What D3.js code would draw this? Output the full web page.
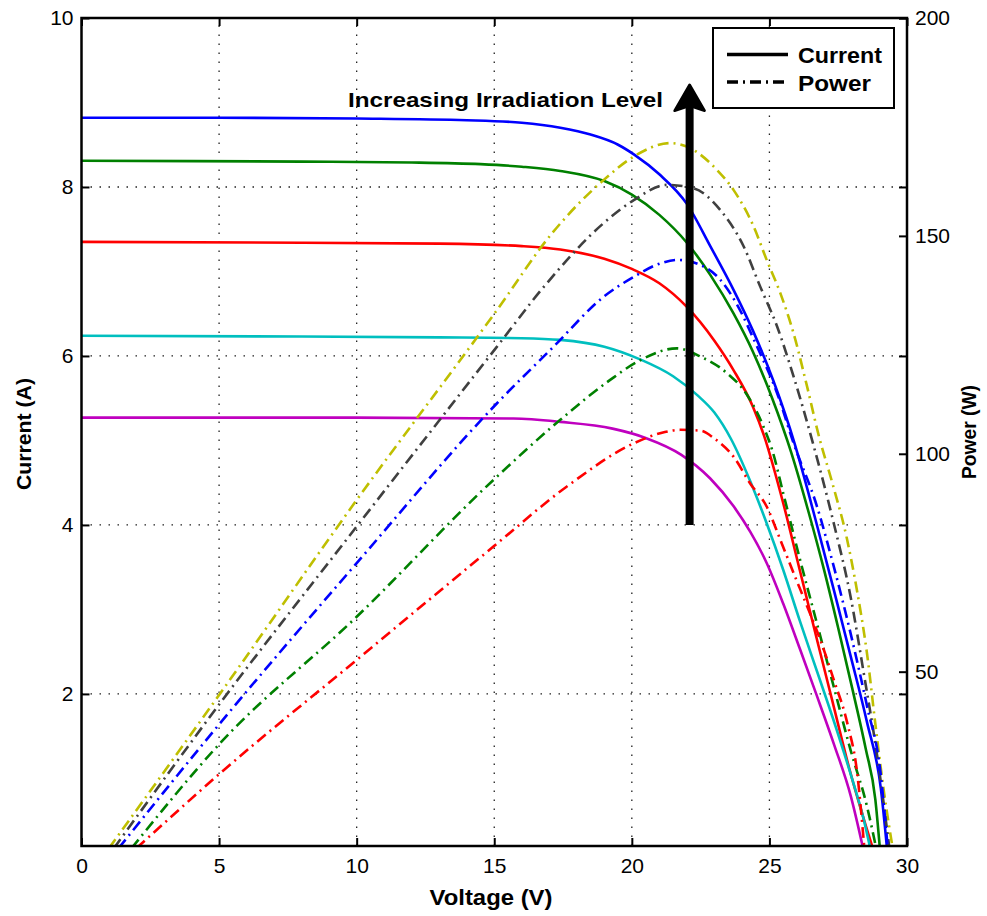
<!DOCTYPE html>
<html>
<head>
<meta charset="utf-8">
<script src="https://cdn.jsdelivr.net/npm/d3@7"></script>
<style>
  html, body { margin: 0; padding: 0; background: #fff; }
  svg { display: block; }
  text { font-family: "Liberation Sans", Arial, Helvetica, sans-serif; fill: #000; }
</style>
</head>
<body>
<svg id="chart" width="987" height="916"></svg>
<script>
// ---------------- DATA ----------------
const xTicks = [0, 5, 10, 15, 20, 25, 30];
const currentTicks = [2, 4, 6, 8, 10];
const powerTicks = [50, 100, 150, 200];

// I-V curves: [voltage (V), current (A)]
const currentBlue = [[0,8.82],[5,8.82],[10,8.81],[14,8.79],[16,8.76],[17.4,8.70],[18.5,8.62],[19.5,8.50],[20.1,8.38],[21,8.15],[22,7.80],[22.85,7.30],[23.7,6.78],[24.4,6.30],[25.15,5.70],[25.9,4.98],[26.4,4.40],[26.75,3.97],[27.35,3.22],[27.95,2.45],[28.55,1.66],[29.05,0.88],[29.28,0.15]];
const currentGreen = [[0,8.31],[8,8.30],[12,8.29],[14.5,8.27],[16,8.24],[17.4,8.19],[19,8.07],[20,7.91],[21,7.67],[22,7.34],[22.85,6.96],[23.7,6.50],[24.4,6.05],[25.1,5.50],[25.8,4.85],[26.4,4.18],[27,3.45],[27.5,2.78],[28,2.08],[28.5,1.35],[28.85,0.75],[29.02,0.15]];
const currentRed = [[0,7.35],[8,7.34],[13,7.33],[16,7.30],[17.4,7.26],[19,7.15],[20,7.03],[21,6.86],[22,6.58],[23,6.18],[23.7,5.83],[24.4,5.40],[24.8,5.06],[25.5,4.26],[26.1,3.47],[26.7,2.68],[27.3,1.90],[27.9,1.12],[28.4,0.55],[28.78,0.15]];
const currentCyan = [[0,6.24],[8,6.23],[13,6.22],[16,6.21],[17.4,6.19],[19,6.11],[20.3,5.96],[21.5,5.76],[22.4,5.53],[23,5.33],[23.6,5.02],[24.3,4.52],[24.9,4.02],[25.5,3.47],[26.1,2.87],[26.8,2.20],[27.4,1.62],[28.0,1.00],[28.4,0.55],[28.68,0.15]];
const currentMagenta = [[0,5.27],[10,5.27],[15.7,5.26],[17.4,5.22],[19.3,5.14],[20.5,5.03],[21.8,4.83],[22.85,4.55],[23.7,4.22],[24.3,3.92],[24.9,3.55],[25.5,3.07],[26.1,2.54],[26.7,2.00],[27.35,1.40],[27.95,0.80],[28.42,0.15]];

// P-V curves: [voltage (V), power (W)]
const powerYellow = [[1.0,9.5],[5.04,45],[10,89.4],[15.1,133],[17.1,150.6],[18.97,162.8],[20.07,168.2],[21.4,171.3],[22.0,170.5],[23.1,165.1],[23.7,160.5],[24.43,152.1],[24.9,144.5],[25.4,136.8],[25.88,127.6],[26.37,115.4],[26.8,104],[27.3,93],[27.8,81],[28.2,68],[28.55,54],[28.85,38],[29.15,23],[29.48,9.5]];
const powerGray = [[1.18,9.5],[5.04,42.8],[10,83.3],[15.1,124.6],[16.8,138.3],[18.97,152.9],[20.07,158.2],[21.28,161.7],[22.25,160.9],[23.22,155.9],[24.07,147.5],[24.67,138.3],[25.28,129.2],[25.88,117.7],[26.6,102],[27.34,84],[27.95,67.2],[28.43,49.6],[28.92,30.5],[29.36,9.5]];
const powerBlue = [[1.35,9.5],[5.04,38.2],[10,74.9],[15.1,111.6],[17.16,124.6],[18.97,136],[20.07,140.6],[21.04,143.7],[21.64,144.5],[22.5,143.3],[23.22,139.9],[23.8,134.5],[24.55,124.6],[25.28,113.9],[25.88,102.4],[26.73,87.9],[27.34,74.1],[27.95,58.8],[28.55,42],[29.04,26.7],[29.3,9.5]];
const powerGreen = [[1.82,9.5],[5.04,33.6],[10,62.6],[14.97,94],[17.4,107.8],[19.2,116.9],[20.2,121.1],[21.64,124.2],[22.5,122.3],[23.46,118.5],[24.19,113.5],[24.8,106],[25.1,100.9],[25.5,91],[26.1,76],[26.73,61],[27.34,46.5],[27.95,32],[28.55,19],[28.88,9.5]];
const powerRed = [[2.0,9.5],[5.04,26.7],[10,52.7],[14.97,78.7],[17.64,92.5],[20.07,102.4],[21.2,105],[21.76,105.5],[22.5,105.3],[23.0,103.5],[23.7,99.3],[24.3,93.2],[24.9,87.9],[25.4,80.2],[25.88,72.6],[26.37,65],[26.85,57.3],[27.34,48.1],[27.83,38.2],[28.19,26.7],[28.45,9.5]];

const currentSeries = [
  {data: currentBlue, color: "#0000ff"},
  {data: currentGreen, color: "#008000"},
  {data: currentRed, color: "#ff0000"},
  {data: currentCyan, color: "#00bfbf"},
  {data: currentMagenta, color: "#bf00bf"}
];
const powerSeries = [
  {data: powerYellow, color: "#bfbf00"},
  {data: powerGray, color: "#404040"},
  {data: powerBlue, color: "#0000ff"},
  {data: powerGreen, color: "#008000"},
  {data: powerRed, color: "#ff0000"}
];
const legendItems = [
  {label: "Current", dash: null, len: 84},
  {label: "Power", dash: "11,5,2,5", len: 73}
];
const annotationText = "Increasing Irradiation Level";
const arrowVoltage = 22.1;
const arrowFrom = 4.0, arrowTo = 9.21;

// ---------------- LAYOUT ----------------
const L = 81.5, R = 907, T = 18, B = 846;
const svg = d3.select("#chart");
const x = d3.scaleLinear().domain([0, 30]).range([L, R]);
const yI = d3.scaleLinear().domain([0.2, 10]).range([B, T]);
const yP = d3.scaleLinear().domain([10, 200]).range([B, T]);

svg.append("defs").append("clipPath").attr("id", "plotclip")
  .append("rect").attr("x", L).attr("y", T).attr("width", R - L).attr("height", B - T);

// grid
const grid = svg.append("g").attr("stroke", "#222").attr("stroke-width", 1.3)
  .attr("stroke-dasharray", "1.5,7.5");
xTicks.filter(v => v > 0 && v < 30).forEach(v => {
  grid.append("line").attr("x1", x(v)).attr("x2", x(v)).attr("y1", B).attr("y2", T);
});
currentTicks.filter(v => v < 10).forEach(v => {
  grid.append("line").attr("x1", L).attr("x2", R).attr("y1", yI(v)).attr("y2", yI(v));
});

// curves
const plot = svg.append("g").attr("clip-path", "url(#plotclip)");
const lineI = d3.line().x(d => x(d[0])).y(d => yI(d[1])).curve(d3.curveMonotoneX);
const lineP = d3.line().x(d => x(d[0])).y(d => yP(d[1])).curve(d3.curveMonotoneX);
currentSeries.forEach(s => {
  plot.append("path").attr("d", lineI(s.data)).attr("fill", "none")
    .attr("stroke", s.color).attr("stroke-width", 2.6);
});
powerSeries.forEach(s => {
  plot.append("path").attr("d", lineP(s.data)).attr("fill", "none")
    .attr("stroke", s.color).attr("stroke-width", 2.6)
    .attr("stroke-dasharray", "11,5,2,5");
});

// axes
function styleAxis(g, showLabels) {
  g.select(".domain").remove();
  g.selectAll(".tick line").attr("stroke", "#000").attr("stroke-width", 2);
  g.selectAll(".tick text").attr("font-size", 21)
    .style("font-family", "'Liberation Sans', Arial, sans-serif")
    .attr("fill", "#000");
  if (!showLabels) g.selectAll(".tick text").remove();
}
svg.append("g").attr("transform", `translate(0,${B})`)
  .call(d3.axisBottom(x).tickValues(xTicks).tickSize(-8).tickPadding(12).tickFormat(d3.format("d")))
  .call(g => styleAxis(g, true));
svg.append("g").attr("transform", `translate(0,${T})`)
  .call(d3.axisTop(x).tickValues(xTicks).tickSize(-8))
  .call(g => styleAxis(g, false));
svg.append("g").attr("transform", `translate(${L},0)`)
  .call(d3.axisLeft(yI).tickValues(currentTicks).tickSize(-8).tickPadding(8).tickFormat(d3.format("d")))
  .call(g => styleAxis(g, true));
svg.append("g").attr("transform", `translate(${R},0)`)
  .call(d3.axisRight(yI).tickValues(currentTicks).tickSize(-8))
  .call(g => styleAxis(g, false));
svg.append("g").attr("transform", `translate(${R},0)`)
  .call(d3.axisRight(yP).tickValues(powerTicks).tickSize(-8).tickPadding(8).tickFormat(d3.format("d")))
  .call(g => styleAxis(g, true));

// frame
svg.append("rect").attr("x", L).attr("y", T).attr("width", R - L).attr("height", B - T)
  .attr("fill", "none").attr("stroke", "#000").attr("stroke-width", 2.5);

// axis labels
svg.append("text").attr("x", 491).attr("y", 905).attr("text-anchor", "middle")
  .attr("font-size", 22).attr("font-weight", "bold")
  .attr("textLength", 123).attr("lengthAdjust", "spacingAndGlyphs").text("Voltage (V)");
svg.append("text").attr("transform", "translate(31,434) rotate(-90)").attr("text-anchor", "middle")
  .attr("font-size", 21).attr("font-weight", "bold")
  .attr("textLength", 112).attr("lengthAdjust", "spacingAndGlyphs").text("Current (A)");
svg.append("text").attr("transform", "translate(976,432) rotate(-90)").attr("text-anchor", "middle")
  .attr("font-size", 20).attr("font-weight", "bold")
  .attr("textLength", 94).attr("lengthAdjust", "spacingAndGlyphs").text("Power (W)");

// annotation text
svg.append("text").attr("x", 348).attr("y", 107).attr("font-size", 21).attr("font-weight", "bold")
  .attr("textLength", 315).attr("lengthAdjust", "spacingAndGlyphs").text(annotationText);

// arrow
const ax = x(arrowVoltage), ay0 = yI(arrowFrom), ay1 = yI(arrowTo);
svg.append("line").attr("x1", ax).attr("x2", ax).attr("y1", ay0).attr("y2", ay1 + 18)
  .attr("stroke", "#000").attr("stroke-width", 8);
svg.append("path")
  .attr("d", `M${ax},${ay1} L${ax + 15},${ay1 + 26} L${ax},${ay1 + 21} L${ax - 15},${ay1 + 26} Z`)
  .attr("fill", "#000").attr("stroke", "#000").attr("stroke-width", 2.5).attr("stroke-linejoin", "round");

// legend
const lg = svg.append("g");
lg.append("rect").attr("x", 713).attr("y", 28).attr("width", 181).attr("height", 80)
  .attr("fill", "#fff").attr("stroke", "#000").attr("stroke-width", 2);
legendItems.forEach((it, i) => {
  const yy = 54.5 + i * 27.5;
  const ln = lg.append("line").attr("x1", 727).attr("x2", 788).attr("y1", yy).attr("y2", yy)
    .attr("stroke", "#000").attr("stroke-width", 3.5);
  if (it.dash) ln.attr("stroke-dasharray", it.dash);
  lg.append("text").attr("x", 798).attr("y", yy + 8.5).attr("font-size", 22).attr("font-weight", "bold")
    .attr("textLength", it.len).attr("lengthAdjust", "spacingAndGlyphs").text(it.label);
});
</script>
</body>
</html>
